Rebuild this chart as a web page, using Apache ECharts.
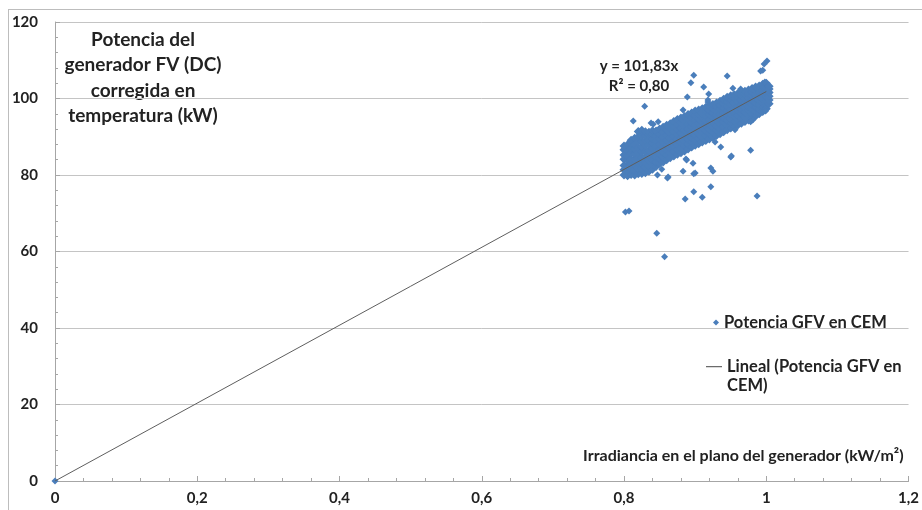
<!DOCTYPE html>
<html style="height: 100%">
<head>
    <meta charset="utf-8">
    <script type="text/javascript" src="https://cdn.jsdelivr.net/npm/echarts@6/dist/echarts.min.js"></script>
</head>
<body style="height: 100%; margin: 0; background: #fff">
<div id="container" style="height: 510px; width: 922px"></div>
<script type="text/javascript">
    // dense part of the cloud, read column by column (irradiance -> list of powers)
    var cloudX = [0.800, 0.805, 0.810, 0.815, 0.820, 0.825, 0.830, 0.835, 0.840, 0.845,
                  0.850, 0.855, 0.860, 0.865, 0.870, 0.875, 0.880, 0.885, 0.890, 0.895,
                  0.900, 0.905, 0.910, 0.915, 0.920, 0.925, 0.930, 0.935, 0.940, 0.945,
                  0.950, 0.955, 0.960, 0.965, 0.970, 0.975, 0.980, 0.985, 0.990, 0.995,
                  1.000, 1.004];
    var cloudY = [
        [80.0, 81.4, 82.5, 84.1, 85.2, 86.6, 87.6],
        [79.8, 81.1, 82.3, 83.8, 85.0, 86.3, 87.9],
        [80.1, 81.6, 82.8, 84.1, 85.7, 87.0, 88.3, 89.1],
        [80.0, 81.2, 82.7, 84.0, 85.4, 86.8, 88.0, 89.6],
        [80.3, 81.8, 83.0, 84.5, 85.8, 87.1, 88.7, 90.0, 91.4],
        [80.4, 81.7, 83.2, 84.6, 86.1, 87.4, 88.8, 90.3, 91.7],
        [80.6, 82.1, 83.3, 84.8, 86.2, 87.7, 89.0, 90.4, 91.3],
        [81.0, 82.3, 83.8, 85.1, 86.4, 87.9, 89.2, 90.6, 91.2],
        [81.5, 82.9, 84.1, 85.5, 86.9, 88.2, 89.6, 90.9, 91.6],
        [82.2, 83.4, 84.8, 86.2, 87.5, 88.8, 90.1, 91.5],
        [83.0, 84.3, 85.5, 86.8, 88.1, 89.5, 90.7, 92.0],
        [83.4, 84.8, 86.1, 87.3, 88.6, 89.9, 91.2, 92.5],
        [84.0, 85.2, 86.5, 87.9, 89.1, 90.4, 91.8, 93.0],
        [84.5, 85.8, 87.0, 88.3, 89.7, 90.9, 92.2, 93.4],
        [85.0, 86.2, 87.6, 88.8, 90.1, 91.4, 92.8, 94.0],
        [85.4, 86.7, 88.0, 89.4, 90.6, 91.9, 93.2, 94.5],
        [85.8, 87.1, 88.5, 89.7, 91.0, 92.3, 93.7, 94.9],
        [86.3, 87.7, 88.9, 90.2, 91.6, 92.8, 94.1, 95.3],
        [86.8, 88.1, 89.4, 90.8, 92.0, 93.3, 94.6, 95.8],
        [87.3, 88.6, 89.9, 91.2, 92.6, 93.8, 95.0, 96.2],
        [87.8, 89.1, 90.5, 91.7, 93.0, 94.3, 95.6, 96.7],
        [88.2, 89.6, 90.8, 92.1, 93.5, 94.7, 95.9, 97.0],
        [88.6, 89.9, 91.3, 92.5, 93.8, 95.1, 96.2, 97.3],
        [89.0, 90.3, 91.6, 93.0, 94.2, 95.4, 96.7, 97.7],
        [89.4, 90.8, 92.0, 93.3, 94.6, 95.9, 97.0, 98.0],
        [89.9, 91.2, 92.5, 93.8, 95.1, 96.2, 97.4, 98.4],
        [90.3, 91.6, 93.0, 94.2, 95.5, 96.7, 97.9, 98.8],
        [90.8, 92.1, 93.4, 94.7, 95.9, 97.2, 98.3, 99.3],
        [91.3, 92.6, 93.9, 95.1, 96.4, 97.5, 98.7, 99.8],
        [91.8, 93.1, 94.3, 95.6, 96.8, 98.0, 99.2, 100.3],
        [92.3, 93.6, 94.8, 96.1, 97.2, 98.5, 99.6, 100.7],
        [92.7, 94.0, 95.3, 96.4, 97.6, 98.8, 100.0, 101.0],
        [93.1, 94.4, 95.6, 96.9, 98.0, 99.2, 100.4, 101.3],
        [93.5, 94.8, 96.0, 97.2, 98.5, 99.6, 100.7, 101.6],
        [94.0, 95.2, 96.5, 97.6, 98.8, 100.0, 101.1, 101.9],
        [94.4, 95.7, 96.8, 98.0, 99.2, 100.3, 101.3, 102.2],
        [94.8, 96.0, 97.3, 98.4, 99.6, 100.8, 101.7, 102.6],
        [95.4, 96.6, 97.8, 99.0, 100.1, 101.1, 102.1, 103.0],
        [96.0, 97.2, 98.4, 99.6, 100.6, 101.6, 102.5, 103.3],
        [96.6, 97.8, 98.9, 100.0, 101.1, 102.1, 103.0, 103.7],
        [97.3, 98.4, 99.5, 100.6, 101.6, 102.6, 103.4, 104.0],
        [98.6, 99.6, 100.6, 101.6, 102.5, 103.2]
    ];
    // scattered points away from the band
    var outlierX = [0, 1.001, 0.997, 0.992, 0.898, 0.945, 0.894, 0.912, 0.889, 0.918,
                    0.829, 0.813, 0.838, 0.848, 0.883, 0.981, 0.999, 0.956, 0.978, 0.950,
                    0.936, 0.928, 0.887, 0.900, 0.922, 0.925, 0.922, 0.862, 0.847, 0.861,
                    0.883, 0.898, 0.888, 0.897, 0.951, 0.898, 0.886, 0.910, 0.987, 0.802,
                    0.807, 0.846, 0.857, 0.853, 0.919, 0.841, 0.953, 0.964, 0.995, 0.998,
                    0.978, 0.918];
    var outlierY = [0, 109.8, 109.0, 107.2, 106.1, 105.9, 104.1, 103.0, 100.4, 99.1,
                    98.0, 94.1, 93.6, 93.9, 97.0, 94.4, 96.7, 91.8, 86.5, 84.7,
                    87.3, 88.6, 84.2, 80.5, 81.8, 81.0, 76.9, 79.5, 80.0, 79.2,
                    81.0, 80.3, 83.9, 83.1, 85.0, 75.6, 73.7, 74.2, 74.5, 70.3,
                    70.6, 64.8, 58.6, 81.5, 101.2, 93.3, 102.7, 102.5, 107.4, 104.3,
                    93.9, 99.6];
    // linear trend y = 101,83x
    var trendX = [0, 1.0];
    var trendY = [0, 101.83];

    var xTicks = [0, 0.2, 0.4, 0.6, 0.8, 1, 1.2];
    var yTicks = [0, 20, 40, 60, 80, 100, 120];

    var scatterName = 'Potencia GFV en CEM';
    var trendName = 'Lineal (Potencia GFV en\nCEM)';

    var points = [];
    // overlapping markers of the dense band are drawn a little larger so they merge into one mass
    cloudX.forEach(function (x, i) {
        cloudY[i].forEach(function (y) {
            points.push({value: [x, y], symbolSize: 9});
        });
    });
    outlierX.forEach(function (x, i) {
        points.push({value: [x, outlierY[i]], symbolSize: 7});
    });
    var trend = trendX.map(function (x, i) { return [x, trendY[i]]; });

    var font = 'Lato, "Liberation Sans", sans-serif';
    var textColor = '#222';
    var axisGray = '#a6a6a6';

    var dom = document.getElementById("container");
    var myChart = echarts.init(dom, null, {renderer: 'canvas'});
    var option = {
        animation: false,
        backgroundColor: '#fff',
        textStyle: {fontFamily: font},
        grid: {left: 55, right: 12, top: 22, bottom: 29},
        legend: [
            {
                data: [scatterName],
                left: 708, top: 309,
                icon: 'diamond',
                itemWidth: 6, itemHeight: 6, itemGap: 5,
                textStyle: {fontFamily: font, fontWeight: 'bold', fontSize: 16.5, color: textColor}
            },
            {
                data: [trendName],
                left: 701, top: 352,
                // line sits at the top of the icon box, level with the first text line
                icon: 'path://M0,0H16V1.2H0Z M0,20H0.01V20.01H0Z',
                itemWidth: 16, itemHeight: 20,
                textStyle: {fontFamily: font, fontWeight: 'bold', fontSize: 16.5, color: textColor, lineHeight: 19}
            }
        ],
        xAxis: {
            type: 'value',
            min: xTicks[0], max: xTicks[xTicks.length - 1], interval: 0.2,
            name: 'Irradiancia en el plano del generador (kW/m²)',
            nameLocation: 'end',
            nameGap: -5,
            nameTextStyle: {
                fontFamily: font, fontWeight: 'bold', fontSize: 16, color: textColor,
                align: 'right', verticalAlign: 'bottom', padding: [0, 0, 17, 0]
            },
            axisLine: {lineStyle: {color: axisGray, width: 1}},
            axisTick: {show: true, inside: true, length: 5, lineStyle: {color: axisGray}},
            minorTick: {show: true, splitNumber: 5, length: 3, lineStyle: {color: axisGray}},
            splitLine: {show: false},
            axisLabel: {
                margin: 10,
                fontFamily: font, fontWeight: 'bold', fontSize: 15, color: textColor,
                formatter: function (v) { return String(+v.toFixed(1)).replace('.', ','); }
            }
        },
        yAxis: {
            type: 'value',
            min: yTicks[0], max: yTicks[yTicks.length - 1], interval: 20,
            axisLine: {show: true, lineStyle: {color: axisGray, width: 1}},
            axisTick: {show: true, inside: true, length: 5, lineStyle: {color: axisGray}},
            minorTick: {show: true, splitNumber: 5, length: 3, lineStyle: {color: axisGray}},
            splitLine: {show: true, lineStyle: {color: '#c4c4c4', width: 1}},
            axisLabel: {
                margin: 17,
                fontFamily: font, fontWeight: 'bold', fontSize: 15, color: textColor
            }
        },
        graphic: [
            // outer chart-area border (top and left edges visible)
            {type: 'line', shape: {x1: 8, y1: 9.5, x2: 922, y2: 9.5}, style: {stroke: '#bdbdbd', lineWidth: 1}, silent: true},
            {type: 'line', shape: {x1: 8.5, y1: 9, x2: 8.5, y2: 510}, style: {stroke: '#bdbdbd', lineWidth: 1}, silent: true},
            {
                type: 'text', x: 143, y: 27,
                style: {
                    text: 'Potencia del\ngenerador FV (DC)\ncorregida en\ntemperatura (kW)',
                    textAlign: 'center', textVerticalAlign: 'top',
                    font: 'bold 19px ' + font, fill: textColor, lineHeight: 25.5
                }
            },
            {
                type: 'text', x: 639, y: 56,
                style: {
                    text: 'y = 101,83x\nR² = 0,80',
                    textAlign: 'center', textVerticalAlign: 'top',
                    font: 'bold 15px ' + font, fill: textColor, lineHeight: 20
                }
            }
        ],
        series: [
            {
                name: scatterName,
                type: 'scatter',
                symbol: 'diamond',
                symbolSize: 7,
                itemStyle: {color: '#4a7ebb', opacity: 1},
                data: points
            },
            {
                name: trendName,
                type: 'line',
                showSymbol: false,
                symbol: 'none',
                lineStyle: {color: '#5e5e5e', width: 1},
                itemStyle: {color: '#6b6b6b'},
                data: trend
            }
        ]
    };
    myChart.setOption(option);
</script>
</body>
</html>
